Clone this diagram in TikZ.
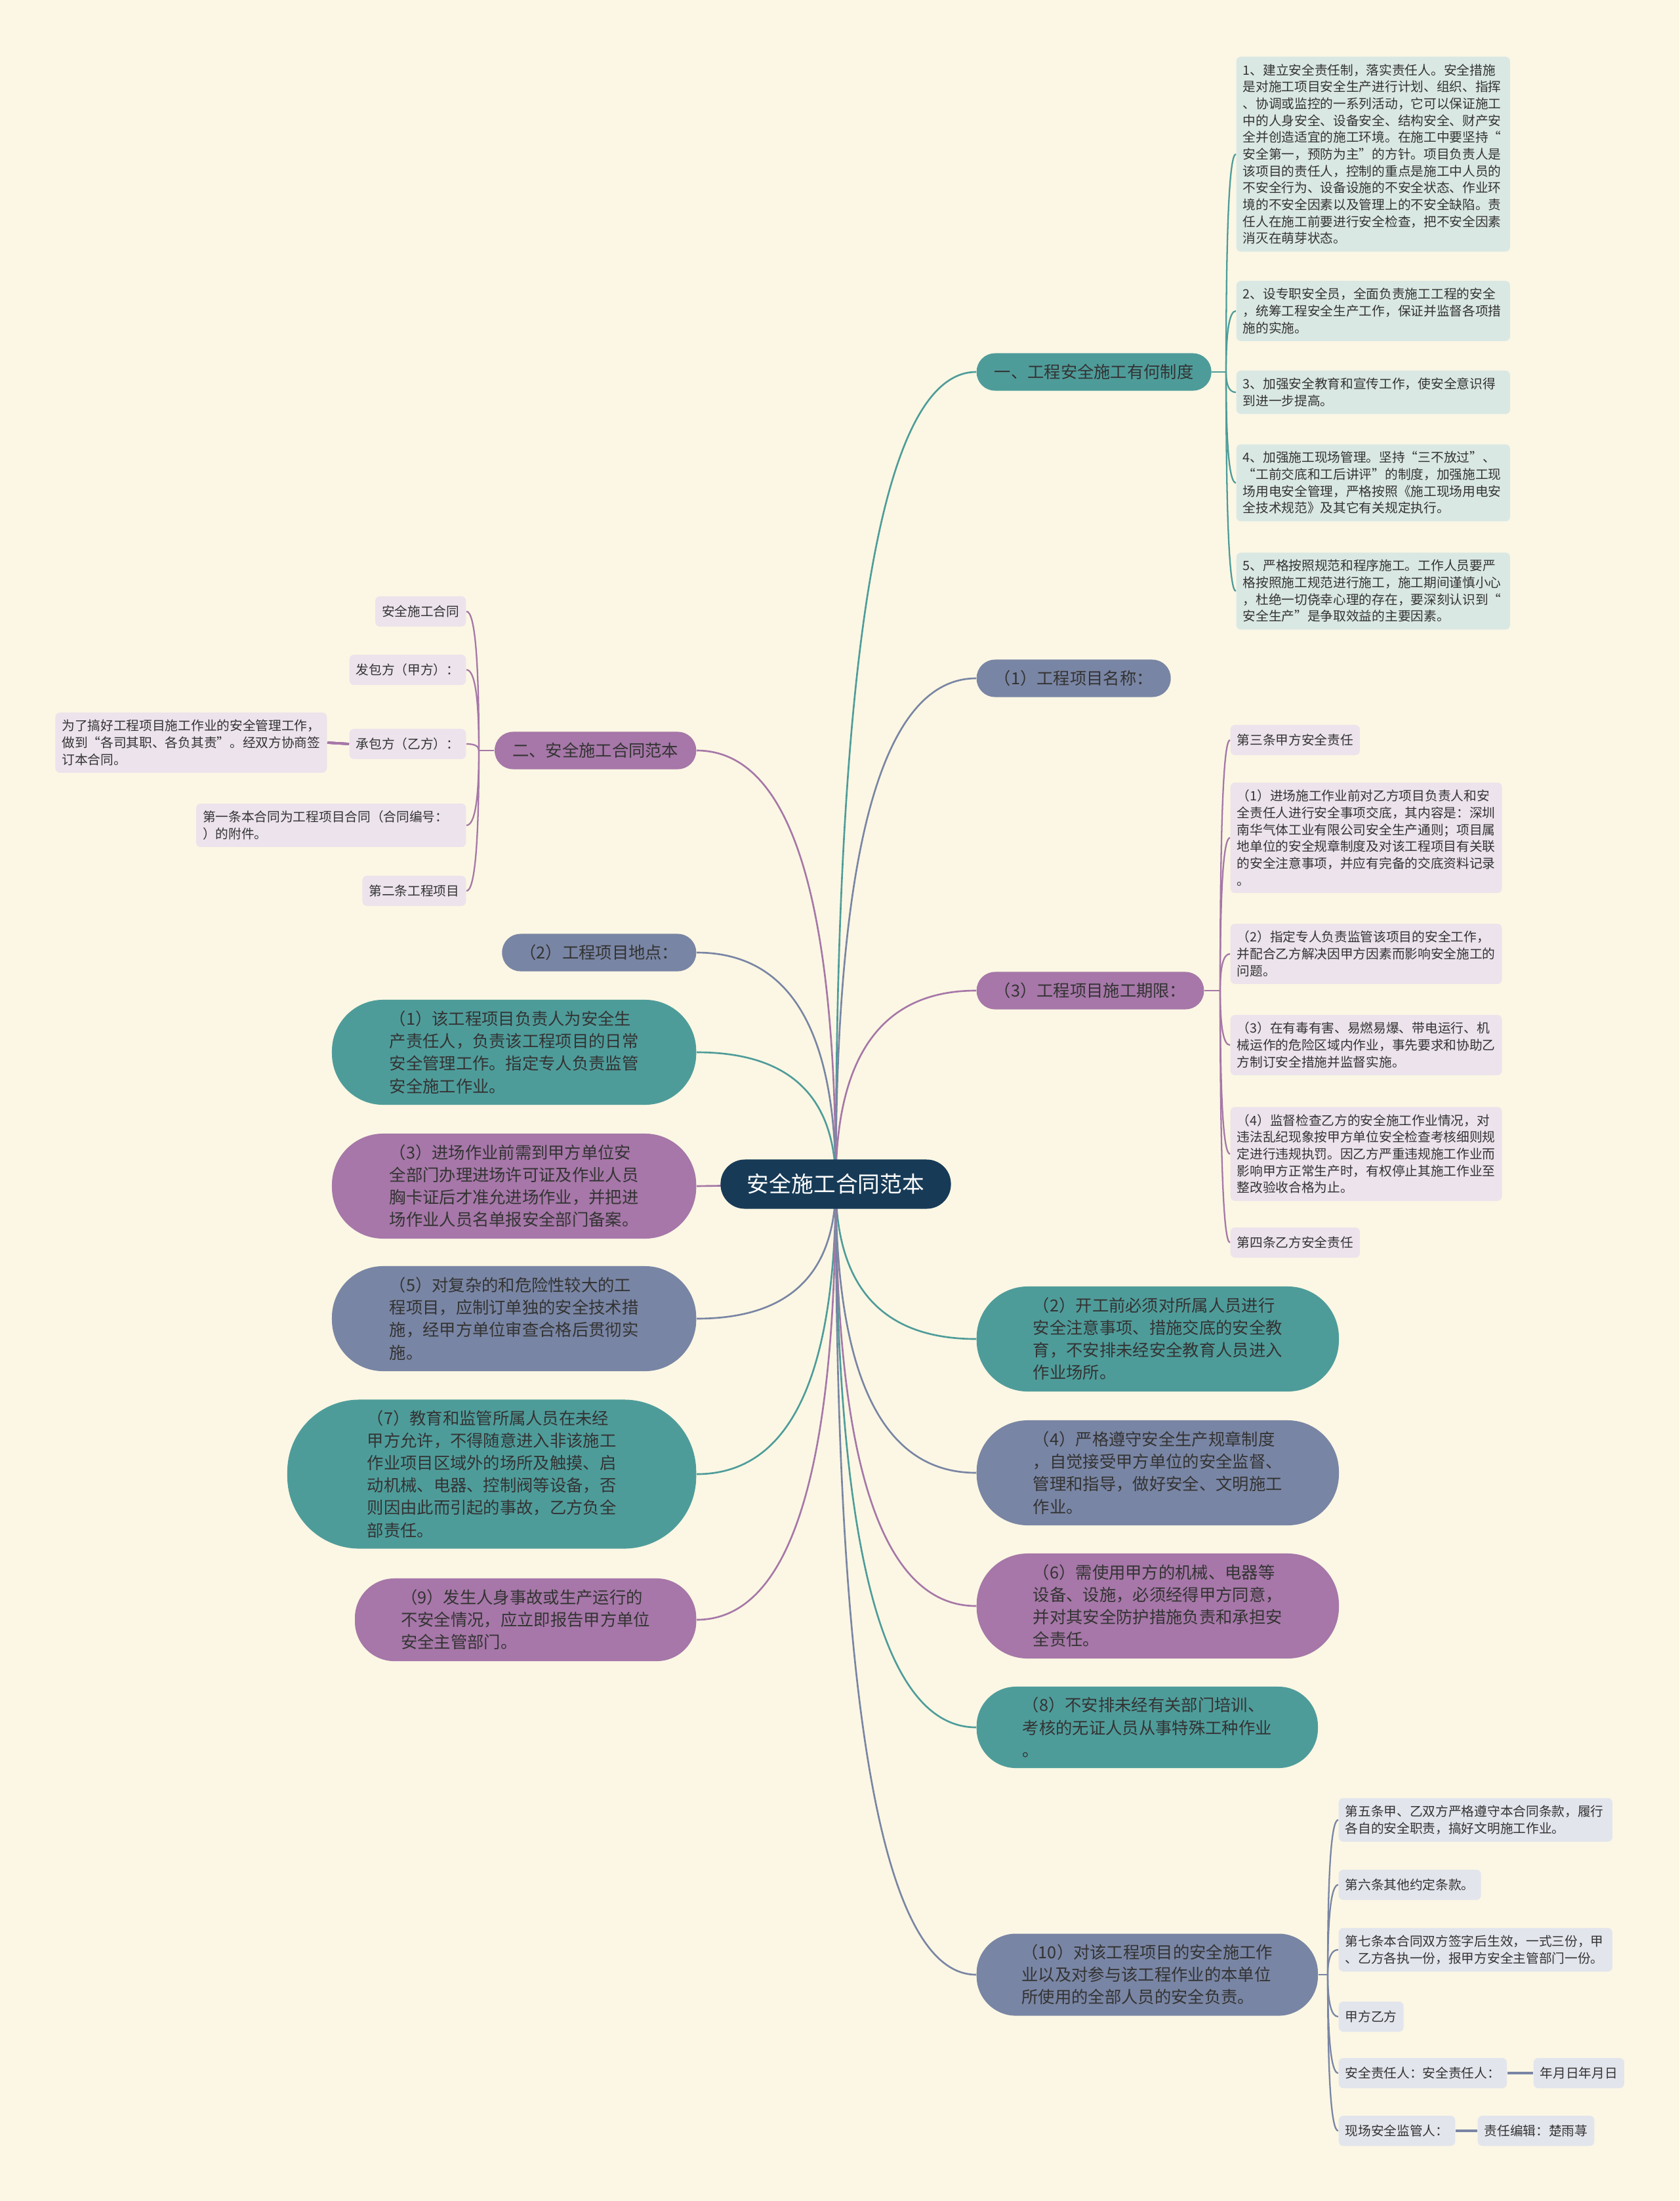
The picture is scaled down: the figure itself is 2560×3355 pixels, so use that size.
\documentclass[tikz,border=0pt]{standalone}
\usepackage{fontspec}
\setmainfont{Noto Sans CJK SC}
\usetikzlibrary{calc}

\definecolor{bgcream}{HTML}{FBF7E4}
\definecolor{rootblue}{HTML}{173B57}
\definecolor{tealbr}{HTML}{4E9C9A}
\definecolor{slatebr}{HTML}{7985A4}
\definecolor{plumbr}{HTML}{A677A8}
\definecolor{tealleaf}{HTML}{DAE8E4}
\definecolor{plumleaf}{HTML}{ECE3EC}
\definecolor{slateleaf}{HTML}{E3E5ED}
\definecolor{inkgrey}{HTML}{333333}

\pgfdeclarelayer{bg}
\pgfdeclarelayer{links}
\pgfsetlayers{bg,links,main}

% curved connector: vertical out of the first point, horizontal into the second
\newcommand{\mmlink}[3]{\draw[#1] (#2) .. controls ($(#2)!0.667!(#2|-#3)$) and ($(#3)!0.667!(#2|-#3)$) .. (#3);}

\begin{document}
\begin{tikzpicture}
    [x=0.01cm, y=-0.01cm,
    rootbox/.style={fill=rootblue, text=white, rounded corners=0.37cm,
        minimum width=3.51cm, minimum height=0.75cm,
        font=\fontsize{9.6pt}{12pt}\selectfont},
    midbox/.style={rounded corners=0.28cm, minimum height=0.57cm,
        inner xsep=0.27cm, inner ysep=0pt, text=inkgrey,
        font=\fontsize{7.2pt}{9.7pt}\selectfont},
    bigbox/.style={rounded corners=0.78cm, minimum height=1.6cm,
        inner xsep=0.1cm, inner ysep=0.16cm, align=left, text=inkgrey,
        font=\fontsize{7.2pt}{9.7pt}\selectfont},
    leafbox/.style={rounded corners=0.07cm, minimum height=0.46cm,
        inner xsep=0.1cm, inner ysep=0.11cm, align=left, text=inkgrey,
        font=\fontsize{5.6pt}{7.3pt}\selectfont},
    wideleaf/.style={leafbox, text width=3.97cm},
    link/.style={line width=0.75pt},
    leaflink/.style={line width=0.65pt}]

    \useasboundingbox (0,0) rectangle (2560,3355);
    \begin{pgfonlayer}{bg}
        \fill[bgcream] (0,0) rectangle (2560,3355);
    \end{pgfonlayer}

    % root
    \node[rootbox] (root) at (1274,1805) {安全施工合同范本};

    % right branches
    \node[midbox, fill=tealbr, anchor=west] (one) at (1488,567) {一、工程安全施工有何制度};
    \node[midbox, fill=slatebr, anchor=west] (name) at (1488,1034) {（1）工程项目名称：};
    \node[midbox, fill=plumbr, anchor=west] (term) at (1488,1510) {（3）工程项目施工期限：};
    \node[bigbox, fill=tealbr, anchor=west, minimum width=5.52cm] (r2) at (1488,2041)
        {（2）开工前必须对所属人员进行\\安全注意事项、措施交底的安全教\\育，不安排未经安全教育人员进入\\作业场所。};
    \node[bigbox, fill=slatebr, anchor=west, minimum width=5.52cm] (r4) at (1488,2245)
        {（4）严格遵守安全生产规章制度\\，自觉接受甲方单位的安全监督、\\管理和指导，做好安全、文明施工\\作业。};
    \node[bigbox, fill=plumbr, anchor=west, minimum width=5.52cm] (r6) at (1488,2448)
        {（6）需使用甲方的机械、电器等\\设备、设施，必须经得甲方同意，\\并对其安全防护措施负责和承担安\\全责任。};
    \node[bigbox, fill=tealbr, anchor=west, minimum width=5.2cm, minimum height=1.24cm,
        rounded corners=0.6cm] (r8) at (1488,2633)
        {（8）不安排未经有关部门培训、\\考核的无证人员从事特殊工种作业\\。};
    \node[bigbox, fill=slatebr, anchor=west, minimum width=5.2cm, minimum height=1.25cm,
        rounded corners=0.6cm] (r10) at (1488,3010)
        {（10）对该工程项目的安全施工作\\业以及对参与该工程作业的本单位\\所使用的全部人员的安全负责。};

    % left branches
    \node[midbox, fill=plumbr, anchor=east] (two) at (1062,1144) {二、安全施工合同范本};
    \node[midbox, fill=slatebr, anchor=east] (site) at (1062,1452) {（2）工程项目地点：};
    \node[bigbox, fill=tealbr, anchor=east, minimum width=5.55cm] (l1) at (1062,1604)
        {（1）该工程项目负责人为安全生\\产责任人，负责该工程项目的日常\\安全管理工作。指定专人负责监管\\安全施工作业。};
    \node[bigbox, fill=plumbr, anchor=east, minimum width=5.55cm] (l3) at (1062,1808)
        {（3）进场作业前需到甲方单位安\\全部门办理进场许可证及作业人员\\胸卡证后才准允进场作业，并把进\\场作业人员名单报安全部门备案。};
    \node[bigbox, fill=slatebr, anchor=east, minimum width=5.55cm] (l5) at (1062,2010)
        {（5）对复杂的和危险性较大的工\\程项目，应制订单独的安全技术措\\施，经甲方单位审查合格后贯彻实\\施。};
    \node[bigbox, fill=tealbr, anchor=east, minimum width=6.23cm, minimum height=2.27cm,
        rounded corners=1.1cm] (l7) at (1062,2247)
        {（7）教育和监管所属人员在未经\\甲方允许，不得随意进入非该施工\\作业项目区域外的场所及触摸、启\\动机械、电器、控制阀等设备，否\\则因由此而引起的事故，乙方负全\\部责任。};
    \node[bigbox, fill=plumbr, anchor=east, minimum width=5.2cm, minimum height=1.26cm,
        rounded corners=0.6cm] (l9) at (1062,2469)
        {（9）发生人身事故或生产运行的\\不安全情况，应立即报告甲方单位\\安全主管部门。};

    % leaves of 一
    \node[wideleaf, fill=tealleaf, anchor=west] (a1) at (1884,235)
        {1、建立安全责任制，落实责任人。安全措施\\是对施工项目安全生产进行计划、组织、指挥\\、协调或监控的一系列活动，它可以保证施工\\中的人身安全、设备安全、结构安全、财产安\\全并创造适宜的施工环境。在施工中要坚持“\\安全第一，预防为主”的方针。项目负责人是\\该项目的责任人，控制的重点是施工中人员的\\不安全行为、设备设施的不安全状态、作业环\\境的不安全因素以及管理上的不安全缺陷。责\\任人在施工前要进行安全检查，把不安全因素\\消灭在萌芽状态。};
    \node[wideleaf, fill=tealleaf, anchor=west] (a2) at (1884,474)
        {2、设专职安全员，全面负责施工工程的安全\\，统筹工程安全生产工作，保证并监督各项措\\施的实施。};
    \node[wideleaf, fill=tealleaf, anchor=west] (a3) at (1884,598)
        {3、加强安全教育和宣传工作，使安全意识得\\到进一步提高。};
    \node[wideleaf, fill=tealleaf, anchor=west] (a4) at (1884,736)
        {4、加强施工现场管理。坚持“三不放过”、\\“工前交底和工后讲评”的制度，加强施工现\\场用电安全管理，严格按照《施工现场用电安\\全技术规范》及其它有关规定执行。};
    \node[wideleaf, fill=tealleaf, anchor=west] (a5) at (1884,901)
        {5、严格按照规范和程序施工。工作人员要严\\格按照施工规范进行施工，施工期间谨慎小心\\，杜绝一切侥幸心理的存在，要深刻认识到“\\安全生产”是争取效益的主要因素。};

    % leaves of 二
    \node[leafbox, fill=plumleaf, anchor=east] (b1) at (711,932) {安全施工合同};
    \node[leafbox, fill=plumleaf, anchor=east] (b2) at (711,1021) {发包方（甲方）：};
    \node[leafbox, fill=plumleaf, anchor=east] (b3) at (711,1134) {承包方（乙方）：};
    \node[leafbox, fill=plumleaf, anchor=east] (b3c) at (499,1132)
        {为了搞好工程项目施工作业的安全管理工作，\\做到“各司其职、各负其责”。经双方协商签\\订本合同。};
    \node[leafbox, fill=plumleaf, anchor=east, text width=3.91cm] (b4) at (711,1258)
        {第一条本合同为工程项目合同（合同编号：\\）的附件。};
    \node[leafbox, fill=plumleaf, anchor=east] (b5) at (711,1358) {第二条工程项目};

    % leaves of （3）工程项目施工期限
    \node[leafbox, fill=plumleaf, anchor=west] (c1) at (1875,1128) {第三条甲方安全责任};
    \node[leafbox, fill=plumleaf, anchor=west] (c2) at (1875,1277)
        {（1）进场施工作业前对乙方项目负责人和安\\全责任人进行安全事项交底，其内容是：深圳\\南华气体工业有限公司安全生产通则；项目属\\地单位的安全规章制度及对该工程项目有关联\\的安全注意事项，并应有完备的交底资料记录\\。};
    \node[leafbox, fill=plumleaf, anchor=west] (c3) at (1875,1454)
        {（2）指定专人负责监管该项目的安全工作，\\并配合乙方解决因甲方因素而影响安全施工的\\问题。};
    \node[leafbox, fill=plumleaf, anchor=west] (c4) at (1875,1593)
        {（3）在有毒有害、易燃易爆、带电运行、机\\械运作的危险区域内作业，事先要求和协助乙\\方制订安全措施并监督实施。};
    \node[leafbox, fill=plumleaf, anchor=west] (c5) at (1875,1759)
        {（4）监督检查乙方的安全施工作业情况，对\\违法乱纪现象按甲方单位安全检查考核细则规\\定进行违规执罚。因乙方严重违规施工作业而\\影响甲方正常生产时，有权停止其施工作业至\\整改验收合格为止。};
    \node[leafbox, fill=plumleaf, anchor=west] (c6) at (1875,1894) {第四条乙方安全责任};

    % leaves of （10）
    \node[wideleaf, fill=slateleaf, anchor=west] (d1) at (2040,2774)
        {第五条甲、乙双方严格遵守本合同条款，履行\\各自的安全职责，搞好文明施工作业。};
    \node[leafbox, fill=slateleaf, anchor=west] (d2) at (2040,2873) {第六条其他约定条款。};
    \node[wideleaf, fill=slateleaf, anchor=west] (d3) at (2040,2972)
        {第七条本合同双方签字后生效，一式三份，甲\\、乙方各执一份，报甲方安全主管部门一份。};
    \node[leafbox, fill=slateleaf, anchor=west] (d4) at (2040,3074) {甲方乙方};
    \node[leafbox, fill=slateleaf, anchor=west] (d5) at (2040,3160) {安全责任人：安全责任人：};
    \node[leafbox, fill=slateleaf, anchor=west] (d5c) at (2337,3160) {年月日年月日};
    \node[leafbox, fill=slateleaf, anchor=west] (d6) at (2040,3248) {现场安全监管人：};
    \node[leafbox, fill=slateleaf, anchor=west] (d6c) at (2252,3248) {责任编辑：楚雨荨};

    % junctions
    \coordinate (j1) at (1869,567);
    \coordinate (j2) at (730,1144);
    \coordinate (j3) at (1860,1510);
    \coordinate (j4) at (2024,3010);

    \begin{pgfonlayer}{links}
        % root to branches
        \mmlink{link,draw=tealbr}{root.center}{one.west}
        \mmlink{link,draw=slatebr}{root.center}{name.west}
        \mmlink{link,draw=plumbr}{root.center}{term.west}
        \mmlink{link,draw=tealbr}{root.center}{r2.west}
        \mmlink{link,draw=slatebr}{root.center}{r4.west}
        \mmlink{link,draw=plumbr}{root.center}{r6.west}
        \mmlink{link,draw=tealbr}{root.center}{r8.west}
        \mmlink{link,draw=slatebr}{root.center}{r10.west}
        \mmlink{link,draw=plumbr}{root.center}{two.east}
        \mmlink{link,draw=slatebr}{root.center}{site.east}
        \mmlink{link,draw=tealbr}{root.center}{l1.east}
        \draw[link,draw=plumbr] (root.center) -- (l3.east);
        \mmlink{link,draw=slatebr}{root.center}{l5.east}
        \mmlink{link,draw=tealbr}{root.center}{l7.east}
        \mmlink{link,draw=plumbr}{root.center}{l9.east}

        % branch to leaves
        \draw[leaflink,draw=tealbr] (one.east) -- (j1);
        \foreach \n in {a1,a2,a3,a4,a5}
            \mmlink{leaflink,draw=tealbr}{j1}{\n.west}
        \draw[leaflink,draw=plumbr] (two.west) -- (j2);
        \foreach \n in {b1,b2,b3,b4,b5}
            \mmlink{leaflink,draw=plumbr}{j2}{\n.east}
        \draw[leaflink,draw=plumbr,line width=1pt] (b3.west) -- (b3c.east);
        \draw[leaflink,draw=plumbr] (term.east) -- (j3);
        \foreach \n in {c1,c2,c3,c4,c5,c6}
            \mmlink{leaflink,draw=plumbr}{j3}{\n.west}
        \draw[leaflink,draw=slatebr] (r10.east) -- (j4);
        \foreach \n in {d1,d2,d3,d4,d5,d6}
            \mmlink{leaflink,draw=slatebr}{j4}{\n.west}
        \draw[leaflink,draw=slatebr,line width=1pt] (d5.east) -- (d5c.west);
        \draw[leaflink,draw=slatebr,line width=1pt] (d6.east) -- (d6c.west);
    \end{pgfonlayer}
\end{tikzpicture}
\end{document}
